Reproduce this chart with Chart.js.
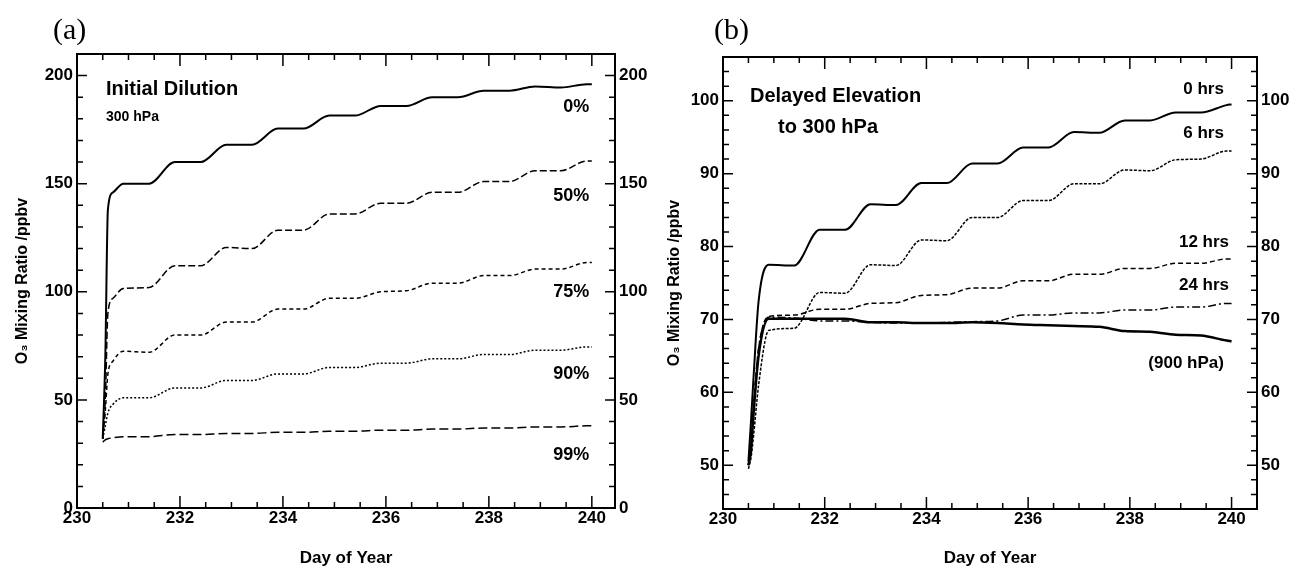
<!DOCTYPE html>
<html lang="en">
<head>
<meta charset="UTF-8">
<title>O3 Mixing Ratio</title>
<script src="https://cdn.jsdelivr.net/npm/chart.js"></script>
<style>
  body { margin: 0; background: #fff; }
  .panel { position: absolute; top: 0; width: 647px; height: 567px; }
</style>
</head>
<body>
<div class="panel" style="left:0"><canvas id="chartA" width="647" height="567"></canvas></div>
<div class="panel" style="left:647px"><canvas id="chartB" width="647" height="567"></canvas></div>
<script>
// day of year, shared by all curves
var days = [230.5, 230.55, 230.6, 230.7, 230.9, 231.4, 231.9, 232.4, 232.9, 233.4, 233.9, 234.4,
            234.9, 235.4, 235.9, 236.4, 236.9, 237.4, 237.9, 238.4, 238.9, 239.4, 239.9, 240];

// (a) initial dilution, 300 hPa
var dil0  = [32, 70, 138, 146, 150, 150, 160, 160, 168, 168, 175.5, 175.5, 181.5, 181.5, 186, 186, 190, 190, 193, 193, 195, 194.5, 196, 196];
var dil50 = [32, 50, 90, 97, 101.5, 102, 112, 112, 120.5, 120, 128.5, 128.5, 136, 136, 141, 141, 146, 146, 151, 151, 156, 156, 160.5, 160.5];
var dil75 = [32, 45, 62, 68, 72.5, 72, 80, 80, 86, 86, 92, 92, 97, 97, 100, 100.5, 104, 104, 107.5, 107.5, 110.5, 110.5, 113.5, 113.5];
var dil90 = [32, 38, 44, 48, 51, 51, 55.5, 55.5, 59, 59, 62, 62, 65, 65, 67, 67, 69, 69, 71, 71, 73, 73, 74.5, 74.5];
var dil99 = [30.5, 31.5, 32, 32.5, 33, 33, 34, 34, 34.5, 34.5, 35, 35, 35.5, 35.5, 36, 36, 36.5, 36.5, 37, 37, 37.5, 37.5, 38, 38];

// (b) delayed elevation to 300 hPa
var hrs0   = [50.5, 56, 62, 72.5, 77.5, 77.4, 82.3, 82.3, 85.8, 85.7, 88.7, 88.7, 91.4, 91.4, 93.6, 93.6, 95.7, 95.6, 97.3, 97.3, 98.4, 98.4, 99.4, 99.5];
var hrs6   = [49.5, 51, 54, 61, 68.5, 68.8, 73.7, 73.6, 77.5, 77.4, 80.9, 80.8, 84, 84, 86.3, 86.3, 88.6, 88.6, 90.5, 90.4, 91.9, 92, 93.1, 93.1];
var hrs12  = [50, 53, 58, 66, 70.4, 70.6, 71.4, 71.4, 72.2, 72.3, 73.3, 73.4, 74.3, 74.3, 75.3, 75.3, 76.2, 76.2, 77, 77, 77.7, 77.7, 78.3, 78.3];
var hrs24  = [50, 53, 58, 66, 70.3, 70.2, 69.8, 69.8, 69.6, 69.5, 69.5, 69.6, 69.7, 69.8, 70.6, 70.6, 70.9, 70.9, 71.3, 71.3, 71.7, 71.7, 72.2, 72.2];
var hpa900 = [50, 52, 57, 65, 70.1, 70.1, 70.1, 70.1, 69.6, 69.6, 69.5, 69.5, 69.6, 69.5, 69.3, 69.2, 69.1, 69, 68.4, 68.3, 67.9, 67.8, 67.1, 67];

// tick labels
var xTicks  = [230, 232, 234, 236, 238, 240];
var yTicksA = [0, 50, 100, 150, 200];
var yTicksB = [50, 60, 70, 80, 90, 100];

// curve labels
var labelsA = ['0%', '50%', '75%', '90%', '99%'];
var labelYA = [185.5, 144.5, 100, 62, 24.5];
var labelsB = ['0 hrs', '6 hrs', '12 hrs', '24 hrs', '(900 hPa)'];
var labelYB = [101.6, 95.5, 80.6, 74.7, 64];
var labelXB = [239.85, 239.85, 239.95, 239.95, 239.85];

Chart.defaults.font.family = '"Liberation Sans", Arial, Helvetica, sans-serif';
Chart.defaults.font.weight = 'bold';
Chart.defaults.color = '#000';

function pts(vals) {
    return days.map(function(d, i) { return {x: d, y: vals[i]}; });
}

function line(vals, width, dash) {
    return {
        data: pts(vals),
        borderColor: '#000',
        borderWidth: width,
        borderDash: dash,
        pointRadius: 0,
        fill: false,
        cubicInterpolationMode: 'monotone'
    };
}

// frame with inward ticks on all four sides + text labels
var panelDeco = {
    id: 'panelDeco',
    afterDraw: function(chart, args, o) {
        var ctx = chart.ctx, a = chart.chartArea;
        var xs = chart.scales.x, ys = chart.scales.y;
        ctx.save();
        ctx.strokeStyle = '#000';
        ctx.lineWidth = 2;
        ctx.strokeRect(a.left, a.top, a.right - a.left, a.bottom - a.top);

        ctx.lineWidth = 1.5;
        ctx.beginPath();
        for (var k = 0; k <= 20; k++) {
            var px = xs.getPixelForValue(230 + k * 0.5);
            var len = (k % 4 === 0) ? 12 : 6;
            ctx.moveTo(px, a.bottom); ctx.lineTo(px, a.bottom - len);
            ctx.moveTo(px, a.top); ctx.lineTo(px, a.top + len);
        }
        for (var v = o.yStart; v <= ys.max; v += o.yMinor) {
            var py = ys.getPixelForValue(v);
            var l2 = (v % o.yMajor === 0) ? 10 : 6;
            ctx.moveTo(a.left, py); ctx.lineTo(a.left + l2, py);
            ctx.moveTo(a.right, py); ctx.lineTo(a.right - l2, py);
        }
        ctx.stroke();

        // panel letter
        ctx.fillStyle = '#000';
        ctx.font = '30px "Liberation Serif", "Times New Roman", serif';
        ctx.textBaseline = 'middle';
        ctx.textAlign = 'left';
        ctx.fillText(o.letter, a.left + o.letterDx, 31);

        // heading
        ctx.font = 'bold 20px "Liberation Sans", Arial, sans-serif';
        ctx.textBaseline = 'alphabetic';
        ctx.fillText(o.head1, a.left + o.head1Dx, a.top + o.head1Dy);
        ctx.font = o.head2Font;
        ctx.fillText(o.head2, a.left + o.head2Dx, a.top + o.head2Dy);

        // curve labels
        ctx.font = o.labelFont;
        ctx.textAlign = 'right';
        ctx.textBaseline = 'middle';
        for (var i = 0; i < o.labels.length; i++) {
            ctx.fillText(o.labels[i], xs.getPixelForValue(o.labelX[i]), ys.getPixelForValue(o.labelY[i]));
        }
        ctx.restore();
    }
};

function makeChart(id, datasets, yMin, yMax, yTicks, xMax, leftW, rightW, bottomH, topPad, titlePad, deco) {
    var setTicks = function(list) {
        return function(scale) { scale.ticks = list.map(function(v) { return {value: v}; }); };
    };
    var fixW = function(w) { return function(scale) { scale.width = w; }; };
    return new Chart(document.getElementById(id), {
        type: 'line',
        data: {datasets: datasets},
        plugins: [panelDeco],
        options: {
            responsive: false,
            animation: false,
            layout: {padding: {top: topPad, left: 0, right: 0, bottom: 0}},
            plugins: {legend: {display: false}, tooltip: {enabled: false}, panelDeco: deco},
            scales: {
                x: {
                    type: 'linear', min: 230, max: xMax,
                    grid: {display: false, drawTicks: false}, border: {display: false},
                    afterBuildTicks: setTicks(xTicks),
                    afterFit: function(scale) { scale.height = bottomH; },
                    ticks: {font: {size: 17, weight: 'bold'}, padding: 0, maxRotation: 0},
                    title: {display: true, text: 'Day of Year', font: {size: 17, weight: 'bold'}, padding: {top: 0, bottom: -2}}
                },
                y: {
                    position: 'left', min: yMin, max: yMax,
                    grid: {display: false, drawTicks: false}, border: {display: false},
                    afterBuildTicks: setTicks(yTicks),
                    afterFit: fixW(leftW),
                    ticks: {font: {size: 17, weight: 'bold'}, padding: 4},
                    title: {display: true, text: 'O\u2083 Mixing Ratio /ppbv', font: {size: 16, weight: 'bold'}, padding: {top: titlePad, bottom: 0}}
                },
                y2: {
                    position: 'right', min: yMin, max: yMax,
                    grid: {display: false, drawTicks: false}, border: {display: false},
                    afterBuildTicks: setTicks(yTicks),
                    afterFit: fixW(rightW),
                    ticks: {font: {size: 17, weight: 'bold'}, padding: 4}
                }
            }
        }
    });
}

makeChart('chartA', [
    line(dil0, 2, []),
    line(dil50, 1.5, [7, 3]),
    line(dil75, 1.5, [4, 3]),
    line(dil90, 1.5, [2, 2]),
    line(dil99, 1.5, [9, 4])
], 0, 210, yTicksA, 240.45, 77, 32, 59, 54, 13, {
    yStart: 0, yMinor: 10, yMajor: 50,
    letter: '(a)', letterDx: -24,
    head1: 'Initial Dilution', head1Dx: 29, head1Dy: 41,
    head2: '300 hPa', head2Font: 'bold 14px "Liberation Sans", Arial, sans-serif', head2Dx: 29, head2Dy: 67,
    labels: labelsA, labelX: [239.95, 239.95, 239.95, 239.95, 239.95], labelY: labelYA,
    labelFont: 'bold 18px "Liberation Sans", Arial, sans-serif'
});

makeChart('chartB', [
    line(hrs0, 2, []),
    line(hrs6, 1.5, [3, 1.5]),
    line(hrs12, 1.5, [5, 3]),
    line(hrs24, 1.5, [8, 3, 2, 3]),
    line(hpa900, 2.5, [])
], 44, 106, yTicksB, 240.5, 76, 37, 58, 57, 18, {
    yStart: 44, yMinor: 2, yMajor: 10,
    letter: '(b)', letterDx: -9,
    head1: 'Delayed Elevation', head1Dx: 27, head1Dy: 45,
    head2: 'to 300 hPa', head2Font: 'bold 20px "Liberation Sans", Arial, sans-serif', head2Dx: 55, head2Dy: 76,
    labels: labelsB, labelX: labelXB, labelY: labelYB,
    labelFont: 'bold 17px "Liberation Sans", Arial, sans-serif'
});
</script>
</body>
</html>
